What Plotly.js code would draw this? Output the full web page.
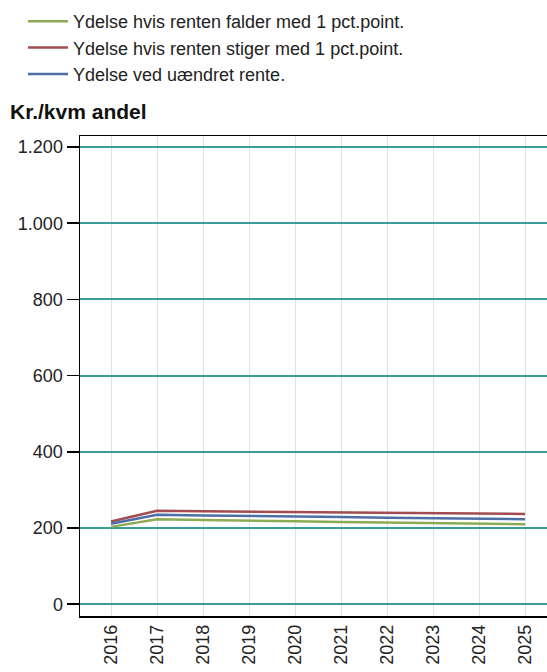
<!DOCTYPE html>
<html>
<head>
<meta charset="utf-8">
<script src="https://cdn.plot.ly/plotly-3.0.1.min.js"></script>
<style>html,body{margin:0;padding:0;background:#fff;}#chart{width:547px;height:672px;}</style>
</head>
<body>
<div id="chart"></div>
<script>
const years = [2016, 2017, 2018, 2019, 2020, 2021, 2022, 2023, 2024, 2025];
const yearLabels = ["2016", "2017", "2018", "2019", "2020", "2021", "2022", "2023", "2024", "2025"];
const seriesNames = [
  "Ydelse hvis renten falder med 1 pct.point.",
  "Ydelse hvis renten stiger med 1 pct.point.",
  "Ydelse ved uændret rente."
];
const faldValues = [203, 223, 221, 220, 218, 216, 215, 213, 211, 210];
const stigValues = [217, 245, 244, 243, 242, 241, 240, 239, 238, 237];
const uaendretValues = [211, 235, 233, 232, 230, 229, 227, 226, 224, 223];
const yTicks = [0, 200, 400, 600, 800, 1000, 1200];
const colors = ["#8eaa55", "#a24b50", "#4e6fa6"];
const FONT = "Liberation Sans, Arial, sans-serif";

const boundaries = years.slice(0, -1).map(y => y + 0.5);

const mk = (vals, i) => ({
  x: years, y: vals, type: "scatter", mode: "lines", name: seriesNames[i],
  line: {color: colors[i], width: 2.5}
});
const data = [mk(faldValues, 0), mk(stigValues, 1), mk(uaendretValues, 2)];

const layout = {
  width: 547, height: 672,
  margin: {l: 80, r: 0, t: 136, b: 56, pad: 0},
  paper_bgcolor: "#fff", plot_bgcolor: "#fff",
  separators: ",.",
  font: {family: FONT, size: 18, color: "#222"},
  showlegend: true,
  legend: {
    x: (23 - 80) / 467, xanchor: "left",
    y: (616 - 3) / 480, yanchor: "top",
    orientation: "v", traceorder: "normal", itemwidth: 40,
    font: {family: FONT, size: 18, color: "#222"},
    bgcolor: "rgba(0,0,0,0)", borderwidth: 0, tracegroupgap: 0
  },
  title: {
    text: "<b>Kr./kvm andel</b>",
    x: 10 / 547, xref: "container", xanchor: "left",
    y: 1 - 112 / 672, yref: "container", yanchor: "middle",
    font: {family: FONT, size: 21, color: "#111"}
  },
  xaxis: {
    type: "linear", range: [2015.326, 2025.478],
    tickvals: years, ticktext: yearLabels, tickangle: -90,
    ticks: "", showgrid: true, gridcolor: "#e2e2e2", gridwidth: 1,
    zeroline: false, showline: true, linecolor: "#000", linewidth: 1.5, mirror: true,
    tickfont: {family: FONT, size: 18, color: "#222"}, fixedrange: true
  },
  xaxis2: {
    type: "linear", overlaying: "x", matches: "x", anchor: "y", side: "bottom",
    range: [2015.326, 2025.478],
    tickvals: boundaries, ticks: "outside", ticklen: 7, tickwidth: 1.5, tickcolor: "#000",
    showticklabels: false, showgrid: false, zeroline: false, showline: false
  },
  yaxis: {
    range: [-31, 1229], tickvals: yTicks, tickformat: ",d",
    ticks: "outside", ticklen: 12, tickwidth: 1.5, tickcolor: "#000",
    showgrid: true, gridcolor: "#3a9b9b", gridwidth: 2,
    zeroline: false, showline: true, linecolor: "#000", linewidth: 1.5,
    tickfont: {family: FONT, size: 18, color: "#222"}, fixedrange: true
  }
};

Plotly.newPlot("chart", data, layout, {displayModeBar: false, staticPlot: true});
</script>
</body>
</html>
